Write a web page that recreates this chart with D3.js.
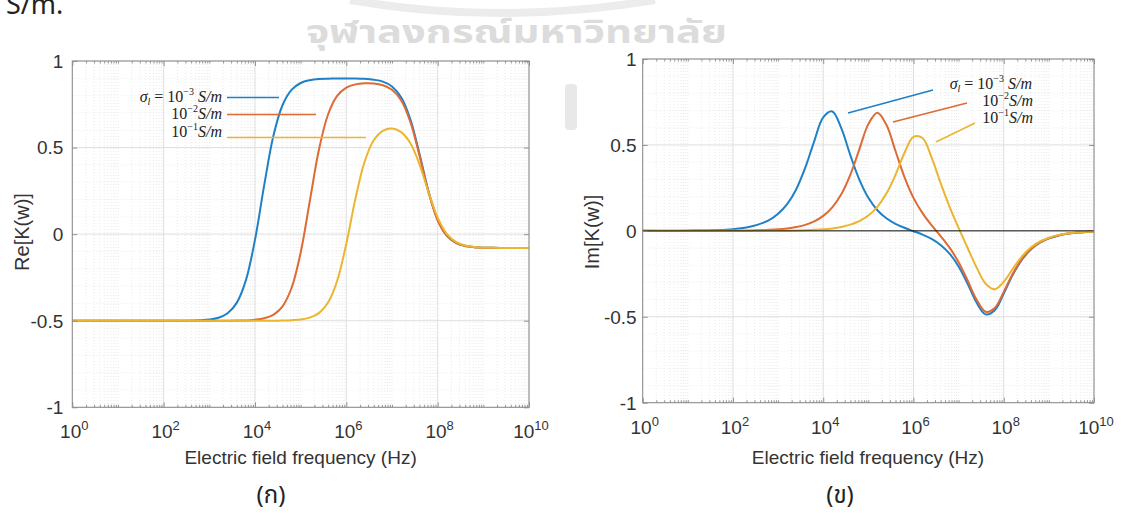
<!DOCTYPE html>
<html><head><meta charset="utf-8">
<script src="https://cdn.jsdelivr.net/npm/d3@7"></script>
<style>body{margin:0;background:#fff;} svg{display:block;}</style>
</head><body>
<svg id="c" width="1125" height="513"></svg>
<script>
// ---- data (log10 of frequency in Hz) ----
const freqExp = [0,1,2,2.4,2.8,3.0,3.2,3.4,3.6,3.8,4.0,4.2,4.4,4.6,4.8,5.0,5.2,5.4,5.6,5.8,6.0,6.2,6.4,6.6,6.8,7.0,7.2,7.4,7.6,7.8,8.0,8.2,8.4,8.6,8.8,9.0,9.2,9.4,9.6,10];

const reBlue   = [-0.5,-0.5,-0.5,-0.5,-0.497,-0.493,-0.483,-0.457,-0.397,-0.267,-0.033,0.280,0.564,0.743,0.833,0.873,0.889,0.896,0.898,0.899,0.899,0.899,0.897,0.892,0.881,0.853,0.790,0.665,0.466,0.247,0.083,-0.008,-0.050,-0.068,-0.075,-0.078,-0.079,-0.080,-0.080,-0.080];
const reOrange = [-0.5,-0.5,-0.5,-0.5,-0.5,-0.5,-0.5,-0.5,-0.499,-0.498,-0.494,-0.486,-0.466,-0.418,-0.311,-0.107,0.190,0.487,0.691,0.798,0.846,0.865,0.871,0.870,0.860,0.834,0.773,0.649,0.455,0.241,0.080,-0.009,-0.051,-0.068,-0.075,-0.078,-0.079,-0.080,-0.080,-0.080];
const reYellow = [-0.5,-0.5,-0.5,-0.5,-0.5,-0.5,-0.5,-0.5,-0.5,-0.5,-0.5,-0.5,-0.5,-0.499,-0.497,-0.493,-0.482,-0.456,-0.395,-0.269,-0.055,0.205,0.418,0.542,0.597,0.610,0.589,0.526,0.405,0.243,0.095,0.002,-0.045,-0.066,-0.074,-0.078,-0.079,-0.080,-0.080,-0.080];

const imBlue   = [0,0.001,0.010,0.025,0.062,0.099,0.155,0.241,0.366,0.521,0.660,0.695,0.598,0.441,0.298,0.192,0.120,0.073,0.041,0.018,-0.002,-0.022,-0.047,-0.082,-0.133,-0.207,-0.308,-0.418,-0.486,-0.462,-0.365,-0.256,-0.169,-0.109,-0.069,-0.044,-0.028,-0.017,-0.011,-0.004];
const imOrange = [0,0,0.001,0.002,0.006,0.009,0.014,0.022,0.035,0.055,0.087,0.137,0.213,0.326,0.474,0.621,0.687,0.617,0.466,0.313,0.192,0.103,0.033,-0.030,-0.098,-0.183,-0.289,-0.401,-0.471,-0.449,-0.355,-0.249,-0.165,-0.106,-0.067,-0.043,-0.027,-0.017,-0.011,-0.004];
const imYellow = [0,0,0,0,0.001,0.001,0.001,0.002,0.004,0.006,0.009,0.014,0.023,0.036,0.057,0.089,0.140,0.217,0.325,0.453,0.547,0.540,0.428,0.279,0.140,0.017,-0.100,-0.214,-0.308,-0.340,-0.297,-0.221,-0.150,-0.097,-0.062,-0.040,-0.025,-0.016,-0.010,-0.004];

const seriesColors = ["#1f80c6","#de6a34","#ebb52f"];
const xTickExps = [0,2,4,6,8,10];
const yTicks = [-1,-0.5,0,0.5,1];
const yTickLabels = ["-1","-0.5","0","0.5","1"];
const legendExps = ["−3","−2","−1"];

const svg = d3.select("#c");
const SANS = "'Liberation Sans', Arial, Helvetica, sans-serif";
const THAI = "'Noto Sans Thai','Noto Sans','DejaVu Sans',sans-serif";

// ---- watermark and page text ----
svg.append("path").attr("d","M350,0 Q500,26 655,0").attr("fill","none").attr("stroke","#ececec").attr("stroke-width",8);
svg.append("text").attr("x",306).attr("y",43).attr("font-family",THAI).attr("font-weight","bold")
  .attr("font-size",31).attr("fill","#dcdcdc").attr("textLength",421).attr("lengthAdjust","spacingAndGlyphs")
  .text("จุฬาลงกรณ์มหาวิทยาลัย");
svg.append("rect").attr("x",565).attr("y",84).attr("width",12).attr("height",46).attr("rx",4).attr("fill","#e8e8e8");
svg.append("text").attr("x",6).attr("y",14).attr("font-family",THAI).attr("font-size",27).attr("fill","#222").text("S/m.");

function panel(cfg) {
  const x = d3.scaleLog().domain([1,1e10]).range([cfg.x0,cfg.x1]);
  const y = d3.scaleLinear().domain([-1,1]).range([cfg.y1,cfg.y0]);
  const g = svg.append("g");
  // minor grid
  const minorX = [];
  for (let n=0;n<10;n++) for (let k=1;k<10;k++) { const e=n+Math.log10(k); if (!(k===1 && n%2===0)) minorX.push(Math.pow(10,e)); }
  g.selectAll(".mgx").data(minorX).enter().append("line")
    .attr("x1",d=>x(d)).attr("x2",d=>x(d)).attr("y1",cfg.y0).attr("y2",cfg.y1)
    .attr("stroke","#e4e4e4").attr("stroke-width",0.8).attr("stroke-dasharray","1,2");
  const minorY = d3.range(-9,10).map(v=>v/10).filter(v=>Math.abs(v*2-Math.round(v*2))>1e-6);
  g.selectAll(".mgy").data(minorY).enter().append("line")
    .attr("x1",cfg.x0).attr("x2",cfg.x1).attr("y1",d=>y(d)).attr("y2",d=>y(d))
    .attr("stroke","#e8e8e8").attr("stroke-width",0.8).attr("stroke-dasharray","1,2");
  // major grid
  g.selectAll(".gx").data(xTickExps).enter().append("line")
    .attr("x1",d=>x(Math.pow(10,d))).attr("x2",d=>x(Math.pow(10,d))).attr("y1",cfg.y0).attr("y2",cfg.y1)
    .attr("stroke","#dedede").attr("stroke-width",1);
  g.selectAll(".gy").data(yTicks).enter().append("line")
    .attr("x1",cfg.x0).attr("x2",cfg.x1).attr("y1",d=>y(d)).attr("y2",d=>y(d))
    .attr("stroke","#dedede").attr("stroke-width",1);

  // curves
  const line = d3.line().x((d,i)=>x(Math.pow(10,freqExp[i]))).y(d=>y(d)).curve(d3.curveCatmullRom.alpha(0.5));
  cfg.series.forEach((s,i)=>{
    g.append("path").attr("d",line(s)).attr("fill","none").attr("stroke",seriesColors[i]).attr("stroke-width",2);
  });
  if (cfg.zeroLine) {
    g.append("line").attr("x1",cfg.x0).attr("x2",cfg.x1).attr("y1",y(0)).attr("y2",y(0)).attr("stroke","#111").attr("stroke-width",1);
  }

  // box + ticks
  const ax = "#8a8a8a";
  g.append("rect").attr("x",cfg.x0).attr("y",cfg.y0).attr("width",cfg.x1-cfg.x0).attr("height",cfg.y1-cfg.y0)
    .attr("fill","none").attr("stroke",ax).attr("stroke-width",1);
  const xAxB = d3.axisBottom(x).tickValues(xTickExps.map(e=>Math.pow(10,e))).tickSizeInner(-5).tickSizeOuter(0).tickFormat("");
  const xAxT = d3.axisTop(x).tickValues(xTickExps.map(e=>Math.pow(10,e))).tickSizeInner(-5).tickSizeOuter(0).tickFormat("");
  const xMinB = d3.axisBottom(x).tickValues(minorX).tickSizeInner(-2.5).tickSizeOuter(0).tickFormat("");
  const xMinT = d3.axisTop(x).tickValues(minorX).tickSizeInner(-2.5).tickSizeOuter(0).tickFormat("");
  const yAxL = d3.axisLeft(y).tickValues(yTicks).tickSizeInner(-5).tickSizeOuter(0).tickFormat("");
  const yAxR = d3.axisRight(y).tickValues(yTicks).tickSizeInner(-5).tickSizeOuter(0).tickFormat("");
  [[xAxB,`translate(0,${cfg.y1})`],[xMinB,`translate(0,${cfg.y1})`],[xAxT,`translate(0,${cfg.y0})`],[xMinT,`translate(0,${cfg.y0})`],
   [yAxL,`translate(${cfg.x0},0)`],[yAxR,`translate(${cfg.x1},0)`]].forEach(([a,t])=>{
    const gg = g.append("g").attr("transform",t).call(a);
    gg.select(".domain").remove();
    gg.selectAll("line").attr("stroke",ax).attr("stroke-width",0.9);
  });

  // tick labels
  xTickExps.forEach(e=>{
    const t = g.append("text").attr("x",x(Math.pow(10,e))+2).attr("y",cfg.y1+31).attr("text-anchor","middle")
      .attr("font-family",SANS).attr("fill","#333");
    t.append("tspan").attr("font-size",19).text("10");
    t.append("tspan").attr("font-size",13).attr("dy",-8).text(String(e));
  });
  yTicks.forEach((v,i)=>{
    g.append("text").attr("x",cfg.x0-cfg.ylabOff).attr("y",y(v)).attr("dy","0.36em").attr("text-anchor","end")
      .attr("font-family",SANS).attr("font-size",19).attr("fill","#333").text(yTickLabels[i]);
  });
  // axis titles
  g.append("text").attr("x",cfg.xtX).attr("y",464).attr("text-anchor","middle").attr("font-family",SANS)
    .attr("font-size",19).attr("fill","#333").text("Electric field frequency (Hz)");
  g.append("text").attr("transform",`translate(${cfg.ytX},${cfg.ytY}) rotate(-90)`).attr("text-anchor","middle")
    .attr("dy","0.36em").attr("font-family",SANS).attr("font-size",20).attr("fill","#333").text(cfg.ytitle);
  // panel caption
  g.append("text").attr("x",cfg.capX).attr("y",503).attr("text-anchor","middle").attr("font-family",THAI)
    .attr("font-size",24).attr("fill","#222").text(cfg.caption);

  // legend annotations
  cfg.legend.forEach((L,i)=>{
    const t = g.append("text").attr("x",L.tx).attr("y",L.ty).attr("text-anchor","end")
      .attr("font-family","'Liberation Serif','DejaVu Serif',serif").attr("font-size",16).attr("fill","#222");
    if (i===0) {
      t.append("tspan").attr("font-style","italic").text("σ");
      t.append("tspan").attr("font-style","italic").attr("font-size",10).attr("dy",3).text("l");
      t.append("tspan").attr("dy",-3).text(" = 10");
    } else {
      t.append("tspan").text("10");
    }
    t.append("tspan").attr("font-size",10).attr("dy",-7).text(legendExps[i]);
    t.append("tspan").attr("dy",7).attr("font-style","italic").text(i===0?" S/m":"S/m");
    g.append("line").attr("x1",L.l[0]).attr("y1",L.l[1]).attr("x2",L.l[2]).attr("y2",L.l[3])
      .attr("stroke",seriesColors[i]).attr("stroke-width",1.6);
  });
}

panel({x0:72.3,x1:529,y0:61,y1:407.3, series:[reBlue,reOrange,reYellow], zeroLine:false,
  ylabOff:9, xtX:300.6, ytX:22, ytY:232, ytitle:"Re[K(w)]", capX:271, caption:"(ก)",
  legend:[{tx:222,ty:102,l:[227,97.5,279,97.5]},{tx:222,ty:119,l:[227,114.5,316,114.5]},{tx:222,ty:137,l:[227,137.5,366,137.5]}]});
panel({x0:642.7,x1:1094,y0:59,y1:402.7, series:[imBlue,imOrange,imYellow], zeroLine:true,
  ylabOff:6, xtX:868, ytX:592, ytY:232, ytitle:"Im[K(w)]", capX:840, caption:"(ข)",
  legend:[{tx:1032,ty:89,l:[848,113,933,90]},{tx:1033,ty:106,l:[893,122,967,103]},{tx:1033,ty:123,l:[936,142,975,123]}]});
</script>
</body></html>
